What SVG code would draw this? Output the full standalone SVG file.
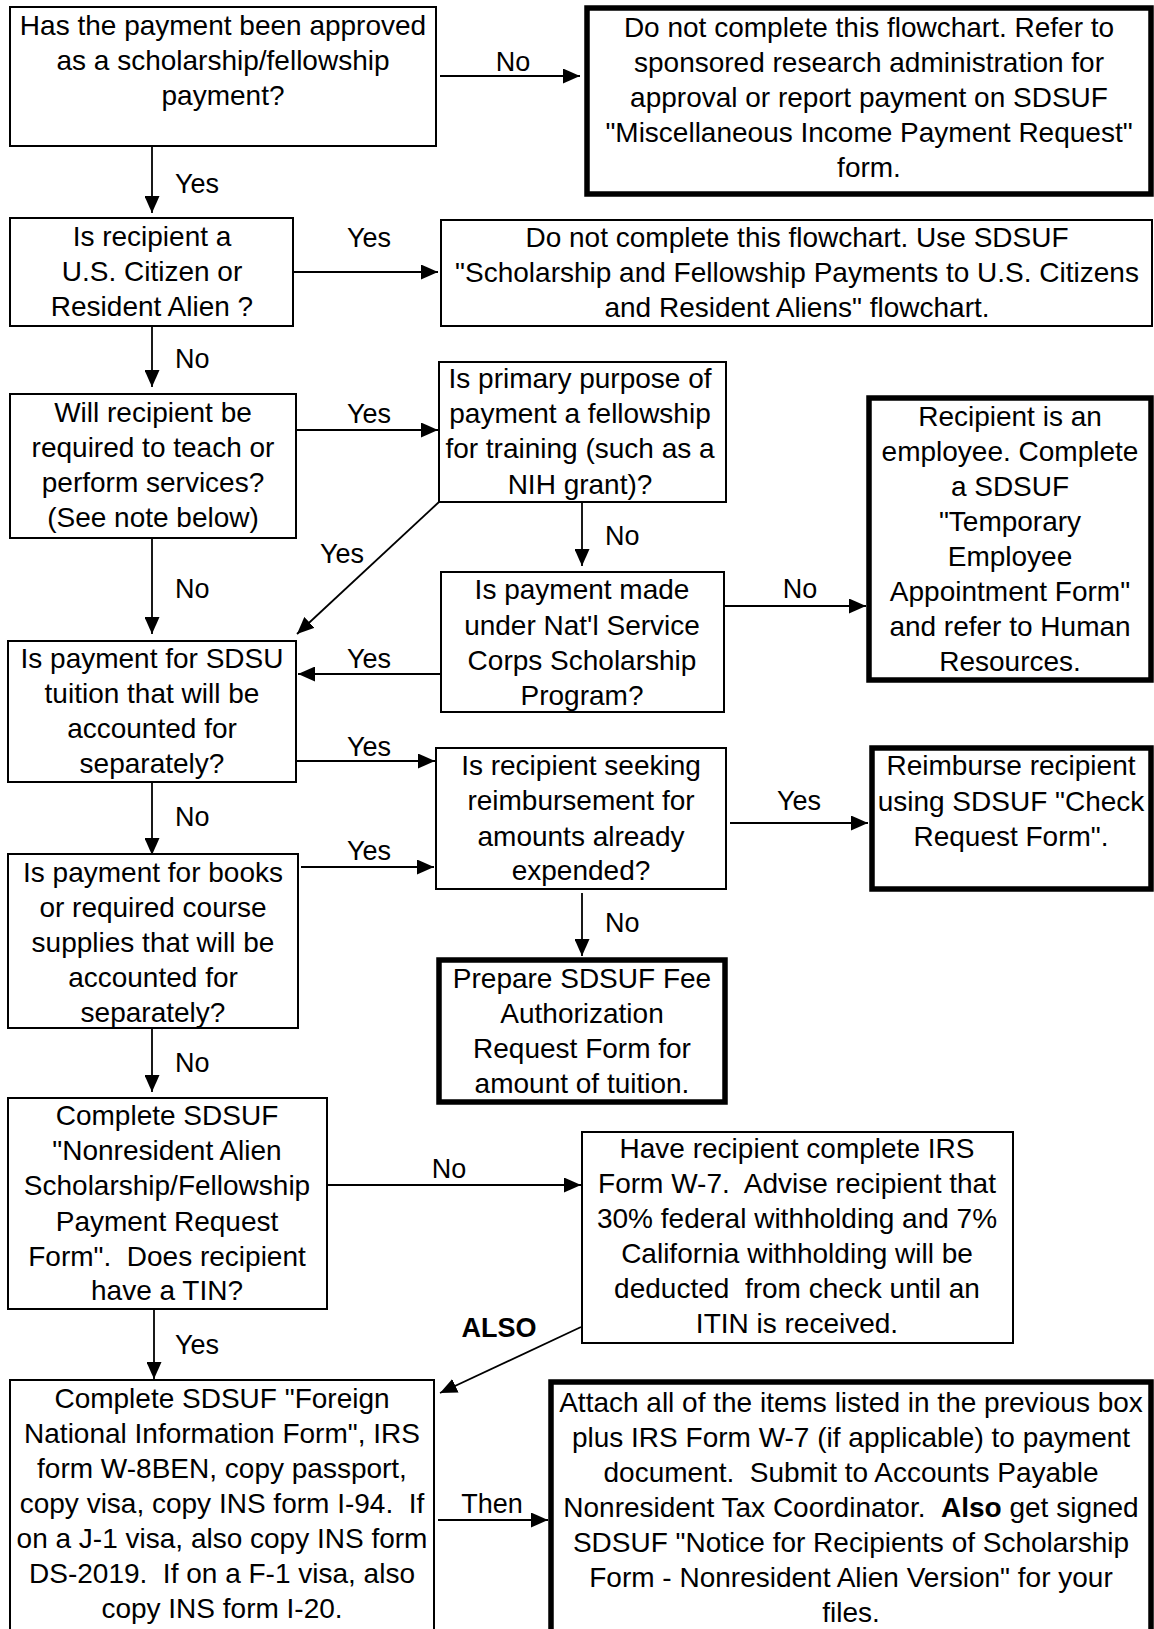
<svg xmlns="http://www.w3.org/2000/svg" width="1154" height="1629" viewBox="0 0 1154 1629">
<style>
text{font-family:"Liberation Sans",Arial,sans-serif;font-size:28px;fill:#000;white-space:pre}
.c{text-anchor:middle}
.box{fill:#fff;stroke:#000;stroke-width:2}
.thick{fill:#fff;stroke:#000;stroke-width:5.5}
.conn line{stroke:#000;stroke-width:1.8;fill:none}
.lbl{font-size:27px}
</style>
<defs>
<marker id="ah" markerUnits="userSpaceOnUse" markerWidth="17" markerHeight="15" refX="17" refY="7.5" orient="auto">
<path d="M0,0 L17,7.5 L0,15 z" fill="#000"/>
</marker>
</defs>
<rect width="1154" height="1629" fill="#fff"/>

<g id="n1">
<rect class="box" x="10" y="7" width="426" height="139"/>
<text class="c" x="223" y="35">Has the payment been approved</text>
<text class="c" x="223" y="70">as a scholarship/fellowship</text>
<text class="c" x="223" y="105">payment?</text>
</g>
<g id="nA">
<rect class="thick" x="587" y="8" width="564" height="186"/>
<text class="c" x="869" y="37">Do not complete this flowchart. Refer to</text>
<text class="c" x="869" y="72">sponsored research administration for</text>
<text class="c" x="869" y="107">approval or report payment on SDSUF</text>
<text class="c" x="869" y="142">"Miscellaneous Income Payment Request"</text>
<text class="c" x="869" y="177">form.</text>
</g>
<g id="n2">
<rect class="box" x="10" y="218" width="283" height="108"/>
<text class="c" x="152" y="246">Is recipient a</text>
<text class="c" x="152" y="281">U.S. Citizen or</text>
<text class="c" x="152" y="316">Resident Alien ?</text>
</g>
<g id="nB">
<rect class="box" x="441" y="220" width="711" height="106"/>
<text class="c" x="797" y="247">Do not complete this flowchart. Use SDSUF</text>
<text class="c" x="797" y="282">"Scholarship and Fellowship Payments to U.S. Citizens</text>
<text class="c" x="797" y="317">and Resident Aliens" flowchart.</text>
</g>
<g id="n3">
<rect class="box" x="10" y="394" width="286" height="144"/>
<text class="c" x="153" y="422">Will recipient be</text>
<text class="c" x="153" y="457">required to teach or</text>
<text class="c" x="153" y="492">perform services?</text>
<text class="c" x="153" y="527">(See note below)</text>
</g>
<g id="n4">
<rect class="box" x="439" y="362" width="287" height="140"/>
<text class="c" x="580" y="388">Is primary purpose of</text>
<text class="c" x="580" y="423">payment a fellowship</text>
<text class="c" x="580" y="458">for training (such as a</text>
<text class="c" x="580" y="494">NIH grant)?</text>
</g>
<g id="nC">
<rect class="thick" x="869" y="398" width="282" height="282"/>
<text class="c" x="1010" y="426">Recipient is an</text>
<text class="c" x="1010" y="461">employee. Complete</text>
<text class="c" x="1010" y="496">a SDSUF</text>
<text class="c" x="1010" y="531">"Temporary</text>
<text class="c" x="1010" y="566">Employee</text>
<text class="c" x="1010" y="601">Appointment Form"</text>
<text class="c" x="1010" y="636">and refer to Human</text>
<text class="c" x="1010" y="671">Resources.</text>
</g>
<g id="n5">
<rect class="box" x="8" y="641" width="288" height="141"/>
<text class="c" x="152" y="668">Is payment for SDSU</text>
<text class="c" x="152" y="703">tuition that will be</text>
<text class="c" x="152" y="738">accounted for</text>
<text class="c" x="152" y="773">separately?</text>
</g>
<g id="n6">
<rect class="box" x="441" y="572" width="283" height="140"/>
<text class="c" x="582" y="599">Is payment made</text>
<text class="c" x="582" y="635">under Nat'l Service</text>
<text class="c" x="582" y="670">Corps Scholarship</text>
<text class="c" x="582" y="705">Program?</text>
</g>
<g id="n7">
<rect class="box" x="436" y="748" width="290" height="141"/>
<text class="c" x="581" y="775">Is recipient seeking</text>
<text class="c" x="581" y="810">reimbursement for</text>
<text class="c" x="581" y="846">amounts already</text>
<text class="c" x="581" y="880">expended?</text>
</g>
<g id="nE">
<rect class="thick" x="872" y="748" width="279" height="141"/>
<text class="c" x="1011" y="775">Reimburse recipient</text>
<text class="c" x="1011" y="811">using SDSUF "Check</text>
<text class="c" x="1011" y="846">Request Form".</text>
</g>
<g id="n8">
<rect class="box" x="8" y="854" width="290" height="174"/>
<text class="c" x="153" y="882">Is payment for books</text>
<text class="c" x="153" y="917">or required course</text>
<text class="c" x="153" y="952">supplies that will be</text>
<text class="c" x="153" y="987">accounted for</text>
<text class="c" x="153" y="1022">separately?</text>
</g>
<g id="nD">
<rect class="thick" x="439" y="960" width="286" height="142"/>
<text class="c" x="582" y="988">Prepare SDSUF Fee</text>
<text class="c" x="582" y="1023">Authorization</text>
<text class="c" x="582" y="1058">Request Form for</text>
<text class="c" x="582" y="1093">amount of tuition.</text>
</g>
<g id="n9">
<rect class="box" x="8" y="1098" width="319" height="211"/>
<text class="c" x="167" y="1125">Complete SDSUF</text>
<text class="c" x="167" y="1160">"Nonresident Alien</text>
<text class="c" x="167" y="1195">Scholarship/Fellowship</text>
<text class="c" x="167" y="1231">Payment Request</text>
<text class="c" x="167" y="1266">Form".  Does recipient</text>
<text class="c" x="167" y="1300">have a TIN?</text>
</g>
<g id="n10">
<rect class="box" x="582" y="1132" width="431" height="211"/>
<text class="c" x="797" y="1158">Have recipient complete IRS</text>
<text class="c" x="797" y="1193">Form W-7.  Advise recipient that</text>
<text class="c" x="797" y="1228">30% federal withholding and 7%</text>
<text class="c" x="797" y="1263">California withholding will be</text>
<text class="c" x="797" y="1298">deducted  from check until an</text>
<text class="c" x="797" y="1333">ITIN is received.</text>
</g>
<g id="n11">
<rect class="box" x="10" y="1380" width="424" height="270"/>
<text class="c" x="222" y="1408">Complete SDSUF "Foreign</text>
<text class="c" x="222" y="1443">National Information Form", IRS</text>
<text class="c" x="222" y="1478">form W-8BEN, copy passport,</text>
<text class="c" x="222" y="1513">copy visa, copy INS form I-94.  If</text>
<text class="c" x="222" y="1548">on a J-1 visa, also copy INS form</text>
<text class="c" x="222" y="1583">DS-2019.  If on a F-1 visa, also</text>
<text class="c" x="222" y="1618">copy INS form I-20.</text>
</g>
<g id="nF">
<rect class="thick" x="551" y="1382" width="600" height="270"/>
<text class="c" x="851" y="1412">Attach all of the items listed in the previous box</text>
<text class="c" x="851" y="1447">plus IRS Form W-7 (if applicable) to payment</text>
<text class="c" x="851" y="1482">document.  Submit to Accounts Payable</text>
<text class="c" x="851" y="1517">Nonresident Tax Coordinator.  <tspan font-weight="bold">Also</tspan> get signed</text>
<text class="c" x="851" y="1552">SDSUF "Notice for Recipients of Scholarship</text>
<text class="c" x="851" y="1587">Form - Nonresident Alien Version" for your</text>
<text class="c" x="851" y="1622">files.</text>
</g>

<g id="connectors" class="conn">
<line x1="440" y1="76" x2="580" y2="76" marker-end="url(#ah)"/>
<line x1="152" y1="146" x2="152" y2="213" marker-end="url(#ah)"/>
<line x1="293" y1="272" x2="438" y2="272" marker-end="url(#ah)"/>
<line x1="152" y1="326" x2="152" y2="387" marker-end="url(#ah)"/>
<line x1="296" y1="430" x2="438" y2="430" marker-end="url(#ah)"/>
<line x1="439" y1="502" x2="297" y2="634" marker-end="url(#ah)"/>
<line x1="152" y1="538" x2="152" y2="634" marker-end="url(#ah)"/>
<line x1="582" y1="502" x2="582" y2="566" marker-end="url(#ah)"/>
<line x1="441" y1="674" x2="298" y2="674" marker-end="url(#ah)"/>
<line x1="724" y1="606" x2="866" y2="606" marker-end="url(#ah)"/>
<line x1="296" y1="761" x2="435" y2="761" marker-end="url(#ah)"/>
<line x1="152" y1="782" x2="152" y2="855" marker-end="url(#ah)"/>
<line x1="301" y1="867" x2="434" y2="867" marker-end="url(#ah)"/>
<line x1="730" y1="823" x2="868" y2="823" marker-end="url(#ah)"/>
<line x1="582" y1="893" x2="582" y2="956" marker-end="url(#ah)"/>
<line x1="152" y1="1028" x2="152" y2="1092" marker-end="url(#ah)"/>
<line x1="327" y1="1185" x2="581" y2="1185" marker-end="url(#ah)"/>
<line x1="581" y1="1327" x2="440" y2="1393" marker-end="url(#ah)"/>
<line x1="154" y1="1309" x2="154" y2="1379" marker-end="url(#ah)"/>
<line x1="438" y1="1520" x2="548" y2="1520" marker-end="url(#ah)"/>
<text class="lbl c" x="513" y="71">No</text>
<text class="lbl" x="175" y="193">Yes</text>
<text class="lbl c" x="369" y="247">Yes</text>
<text class="lbl" x="175" y="368">No</text>
<text class="lbl c" x="369" y="423">Yes</text>
<text class="lbl c" x="342" y="563">Yes</text>
<text class="lbl" x="175" y="598">No</text>
<text class="lbl" x="605" y="545">No</text>
<text class="lbl c" x="369" y="668">Yes</text>
<text class="lbl c" x="800" y="598">No</text>
<text class="lbl c" x="369" y="756">Yes</text>
<text class="lbl" x="175" y="826">No</text>
<text class="lbl c" x="369" y="860">Yes</text>
<text class="lbl c" x="799" y="810">Yes</text>
<text class="lbl" x="605" y="932">No</text>
<text class="lbl" x="175" y="1072">No</text>
<text class="lbl c" x="449" y="1178">No</text>
<text class="lbl c" x="499" y="1337" font-weight="bold">ALSO</text>
<text class="lbl" x="175" y="1354">Yes</text>
<text class="lbl c" x="492" y="1513">Then</text>
</g>
</svg>
